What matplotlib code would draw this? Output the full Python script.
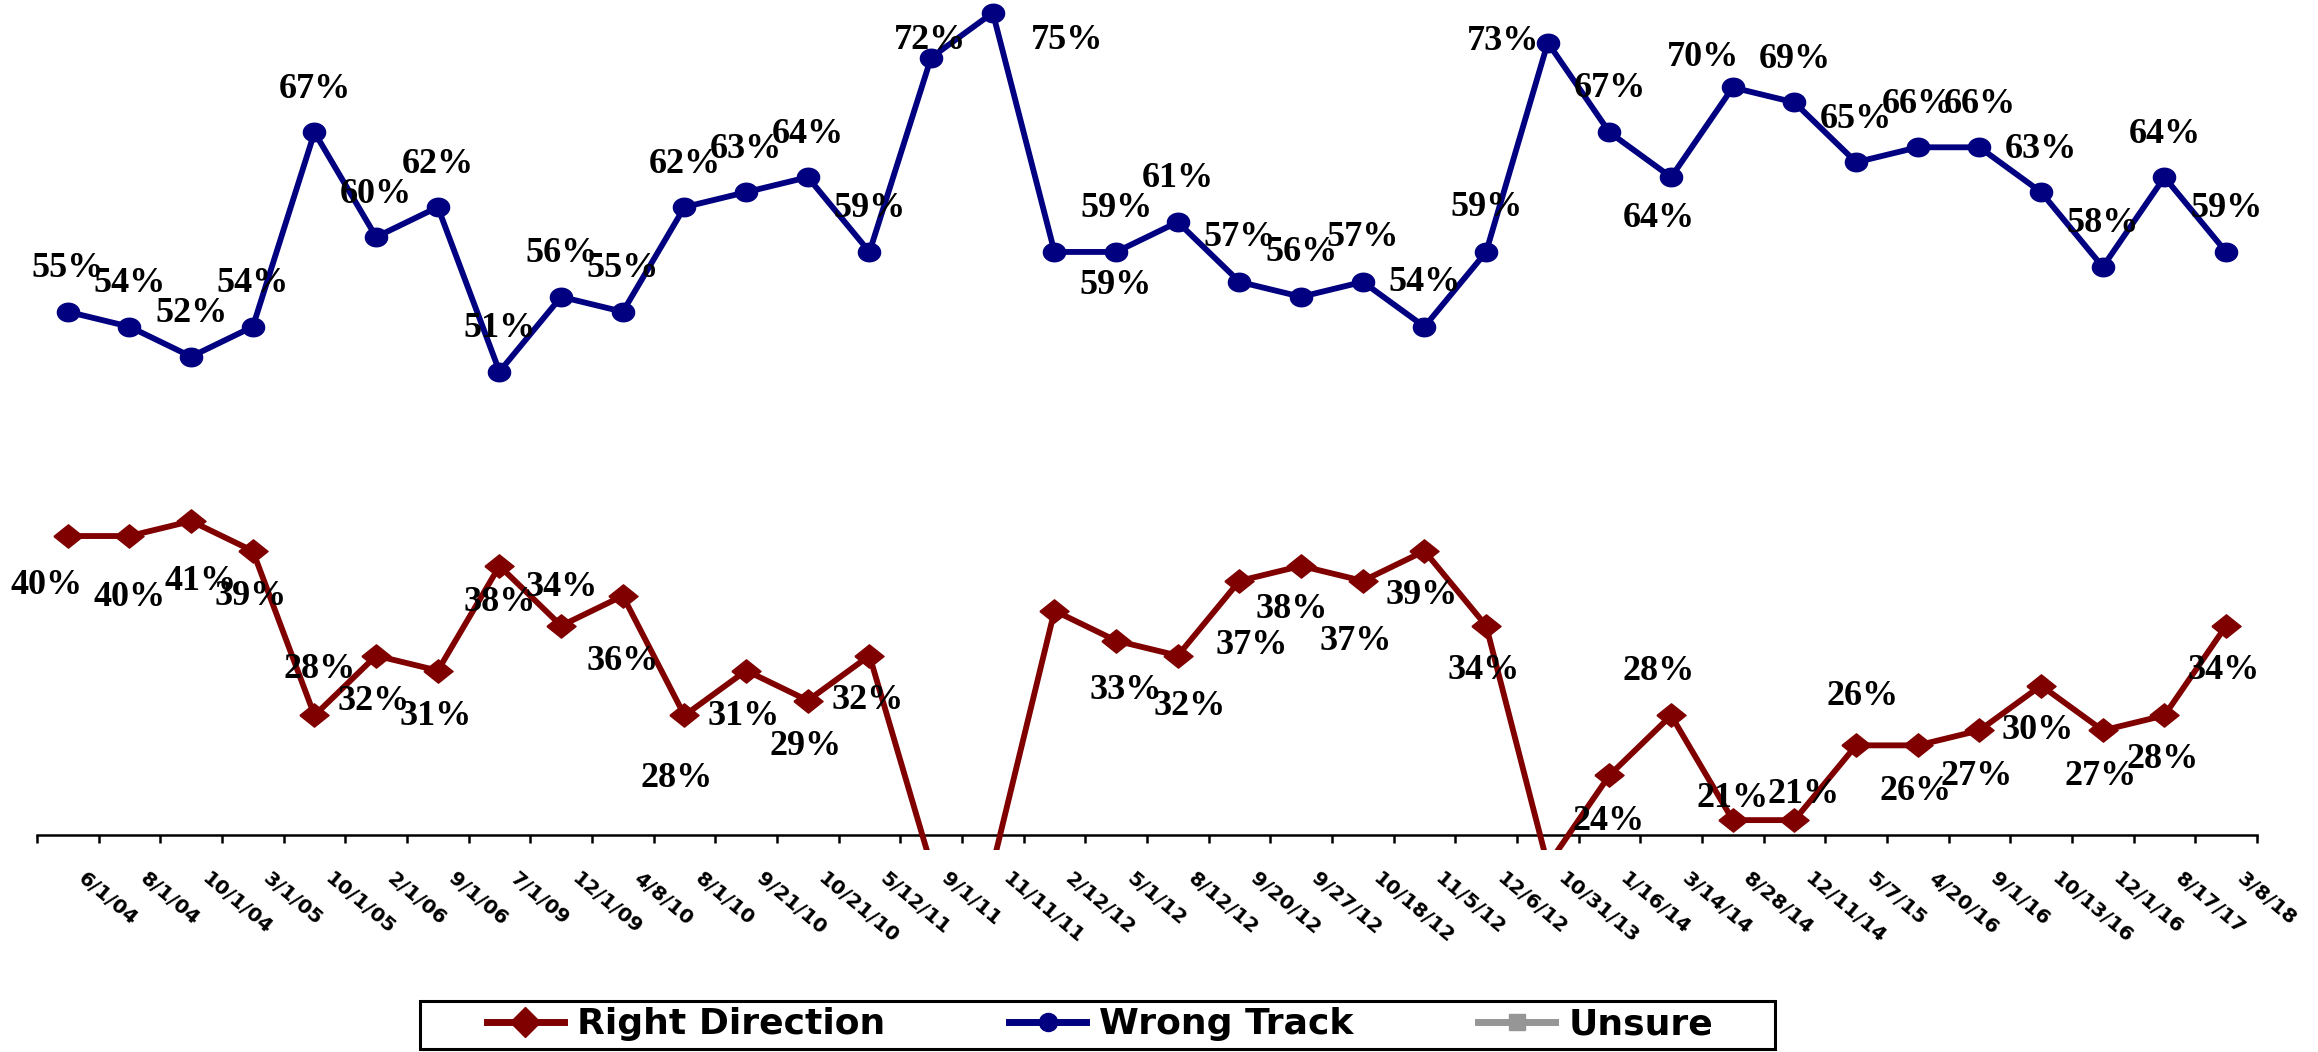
import numpy as np
import matplotlib.pyplot as plt
from matplotlib.lines import Line2D
from matplotlib.patches import Rectangle
from matplotlib import transforms

dates = ["6/1/04", "8/1/04", "10/1/04", "3/1/05", "10/1/05", "2/1/06", "9/1/06",
         "7/1/09", "12/1/09", "4/8/10", "8/1/10", "9/21/10", "10/21/10", "5/12/11",
         "9/1/11", "11/11/11", "2/12/12", "5/1/12", "8/12/12", "9/20/12", "9/27/12",
         "10/18/12", "11/5/12", "12/6/12", "10/31/13", "1/16/14", "3/14/14", "8/28/14",
         "12/11/14", "5/7/15", "4/20/16", "9/1/16", "10/13/16", "12/1/16", "8/17/17",
         "3/8/18"]

right_direction = [40, 40, 41, 39, 28, 32, 31, 38, 34, 36, 28, 31, 29, 32,
                   18, 18, 35, 33, 32, 37, 38, 37, 39, 34, 18, 24, 28, 21,
                   21, 26, 26, 27, 30, 27, 28, 34]
wrong_track = [55, 54, 52, 54, 67, 60, 62, 51, 56, 55, 62, 63, 64, 59,
               72, 75, 59, 59, 61, 57, 56, 57, 54, 59, 73, 67, 64, 70,
               69, 65, 66, 66, 63, 58, 64, 59]

# label placement relative to each point (pixels, screen: +y is down); None = no label
wt_offsets = [(0, -43)] * 14 + [(-1, -17), (74, 28), (61, 34), (0, -43)] + [(0, -44)] * 6 \
    + [(-45, -1), (0, -44), (-12, 41), (-30, -30)] + [(0, -43)] * 8
rd_offsets = [(-21, 49), (0, 61), (9, 60), (-2, 46), (5, -46), (-3, 46), (-2, 46),
              (0, 37), (0, -38), (0, 66), (-8, 63), (-3, 46), (-2, 46), (-2, 45),
              None, None, None, (10, 50), (12, 51), (12, 65), (-9, 44), (-7, 61),
              (-3, 45), (-3, 45), None, (-1, 46), (-12, -44), (0, -22), (9, -26),
              (6, -49), (-2, 46), (-3, 46), (-3, 45), (-2, 46), (-2, 44), (-2, 45)]

RED = "#800000"
NAVY = "#000080"
GRAY = "#969696"

# the original picture is a little stretched sideways, so use wide markers
wide_diamond = [(-1.25, 0), (0, 1), (1.25, 0), (0, -1), (-1.25, 0)]
t = np.linspace(0, 2 * np.pi, 40)
wide_circle = list(zip(1.2 * np.cos(t), np.sin(t)))

fig = plt.figure(figsize=(23.18, 10.52), dpi=100)
ax = fig.add_axes([0.01596, 0.192, 0.9577, 0.7959])

x = np.arange(len(dates))
ax.plot(x, right_direction, color=RED, lw=4.2, marker=wide_diamond, ms=21, zorder=3)
ax.plot(x, wrong_track, color=NAVY, lw=4.2, marker=wide_circle, ms=16, zorder=3,
        clip_on=False)

lab_font = dict(family="Liberation Serif", weight="bold", size=26, color="black")
for xi, v, off in zip(x, wrong_track, wt_offsets):
    ax.annotate(f"{v}%", (xi, v), xytext=(off[0], -off[1]), textcoords="offset pixels",
                ha="center", va="center", annotation_clip=False, zorder=5, **lab_font)
for xi, v, off in zip(x, right_direction, rd_offsets):
    if off is None:
        continue
    ax.annotate(f"{v}%", (xi, v), xytext=(off[0], -off[1]), textcoords="offset pixels",
                ha="center", va="center", annotation_clip=False, zorder=5, **lab_font)

ax.set_xlim(-0.5, len(dates) - 0.5)
ax.set_ylim(19, 75)
for s in ["left", "right", "top"]:
    ax.spines[s].set_visible(False)
ax.spines["bottom"].set_position(("data", 20))
ax.spines["bottom"].set_linewidth(1.8)
ax.set_yticks([])

ax.set_xticks(x)
ax.set_xticks(np.arange(len(dates) + 1) - 0.5, minor=True)
ax.tick_params(axis="x", which="major", length=0, pad=30)
ax.tick_params(axis="x", which="minor", length=6, width=1.8, direction="out")
ax.set_xticklabels(dates, rotation=-40, ha="left", va="center", rotation_mode="anchor",
                   fontsize=14.5, fontweight="bold", family="DejaVu Sans")
shift = transforms.ScaledTranslation(0.13, 0, fig.dpi_scale_trans)
for lbl in ax.get_xticklabels():
    lbl.set_transform(lbl.get_transform() + shift)

handles = [
    Line2D([], [], color=RED, lw=5, marker="D", ms=15),
    Line2D([], [], color=NAVY, lw=5, marker="o", ms=13),
    Line2D([], [], color=GRAY, lw=5, marker="s", ms=12),
]
leg = fig.legend(handles, ["Right Direction", "Wrong Track", "Unsure"], ncol=3,
                 loc="center", bbox_to_anchor=(0.4745, 0.0262), frameon=False,
                 handlelength=2.13, handletextpad=0.36, columnspacing=3.45,
                 borderpad=0.1, prop=dict(family="DejaVu Sans", weight="bold", size=26))
fig.patches.append(Rectangle((0.1812, 0.0029), 0.5846, 0.0456, transform=fig.transFigure,
                             fill=False, edgecolor="black", lw=2.2))

fig.savefig("out.png", dpi=100)
